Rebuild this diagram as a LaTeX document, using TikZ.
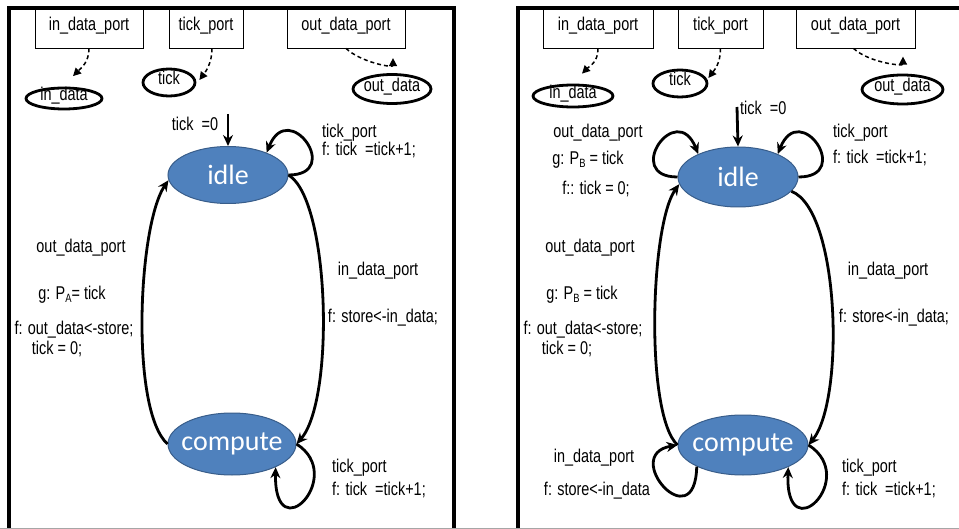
\documentclass[tikz,border=0pt]{standalone}
\usepackage{fontspec}
\setmainfont{Liberation Sans}[FakeStretch=0.78]
\newfontfamily\calib{Carlito}
\usetikzlibrary{shapes.geometric,arrows.meta}
\definecolor{stblue}{HTML}{4F81BD}
\definecolor{stborder}{HTML}{385D8A}
\newcommand\lblfont{\fontsize{18.5}{20}\selectfont}
\newcommand\subB[1]{\raisebox{-0.35ex}{\fontsize{12}{13}\selectfont #1}}
\tikzset{
  port/.style={draw, line width=0.8pt, minimum height=40pt, inner sep=0pt, font=\lblfont, text height=0.75em, text depth=0.25em},
  var/.style={ellipse, draw, line width=2.8pt, inner sep=0pt},
  vartext/.style={inner sep=0pt, font=\lblfont, text height=0.75em, text depth=0.25em},
  state/.style={ellipse, fill=stblue, draw=stborder, line width=1pt, inner sep=0pt},
  sttext/.style={inner sep=0pt, text=white, font=\calib\fontsize{28}{30}\selectfont},
  lbl/.style={inner sep=0pt, font=\lblfont, text height=0.75em, text depth=0.25em},
  tr/.style={line width=2.8pt, -{Stealth[length=11pt,width=10pt]}},
  dsh/.style={line width=1.5pt, dash pattern=on 4pt off 3pt, -{Triangle[length=8pt,width=8pt]}},
  frame/.style={line width=3.5pt}
}
\begin{document}
\begin{tikzpicture}[x=1pt,y=-1pt]
\useasboundingbox (0,0) rectangle (959,529);
\fill[white] (0,0) rectangle (959,529);

% ================= LEFT PANEL =================
\node[port, minimum width=108pt] (inL) at (89,28) {in\_data\_port};
\node[port, minimum width=74pt] (tickL) at (206,28) {tick\_port};
\node[port, minimum width=118pt] (outL) at (346,28) {out\_data\_port};

\node[var, minimum width=76pt, minimum height=21pt] (inDL) at (64,98.5) {};
\node[vartext] at (inDL) {in\_data};
\node[var, minimum width=52pt, minimum height=27pt] (tickDL) at (169,82.5) {};
\node[vartext] at (tickDL) {tick};
\node[var, minimum width=78pt, minimum height=29pt] (outDL) at (392,89) {};
\node[vartext] at (outDL) {out\_data};

\draw[dsh] (inL.south) .. controls +(0,14) and +(8,-8) .. ([xshift=9pt,yshift=10.5pt]inDL.north);
\draw[dsh] ([xshift=6pt]tickL.south) .. controls +(0,15) and +(6,-8) .. ([xshift=3pt,yshift=2.5pt]tickDL.east);
\draw[dsh] (outL.south) .. controls +(15,14) and +(0,10) .. ([xshift=1pt,yshift=15pt]outDL.north);

\node[state, minimum width=120pt, minimum height=57pt] (idleL) at (228,175) {};
\node[sttext] at (idleL) {idle};
\node[state, minimum width=128pt, minimum height=62pt] (compL) at (232,444) {};
\node[sttext] at (compL) {compute};

\coordinate (initL) at (228,114);
\draw[tr] (initL) -- (idleL.north);
\node[lbl] at (195,128) {tick~~=0};

\draw[tr] (idleL.east) .. controls +(55,0) and +(22,-55) .. (idleL.30);
\node[lbl, anchor=west] at (322,135) {tick\_port};
\node[lbl, anchor=west] at (322,153) {f: tick~~=tick+1;};

\draw[tr] (compL.west) .. controls (130,410) and (138,225) .. (idleL.185);
\draw[tr] (idleL.east) .. controls (330,200) and (335,400) .. (compL.east);

\node[lbl] at (81,250) {out\_data\_port};
\node[lbl] at (72,297) {g: P\subB{A}= tick};
\node[lbl] at (74,332) {f: out\_data<-store;};
\node[lbl] at (57,352) {tick = 0;};
\node[lbl] at (378,273) {in\_data\_port};
\node[lbl] at (383,320) {f: store<-in\_data;};

\draw[tr] (compL.east) .. controls (347,476) and (274,552) .. (compL.332);
\node[lbl, anchor=west] at (332,470) {tick\_port};
\node[lbl, anchor=west] at (332,493) {f: tick~~=tick+1;};

% ================= RIGHT PANEL =================
\node[port, minimum width=110pt] (inR) at (598,28) {in\_data\_port};
\node[port, minimum width=85pt] (tickR) at (720.5,28) {tick\_port};
\node[port, minimum width=119pt] (outR) at (855.5,28) {out\_data\_port};

\node[var, minimum width=80pt, minimum height=22pt] (inDR) at (573,96) {};
\node[vartext] at (inDR) {in\_data};
\node[var, minimum width=54pt, minimum height=27pt] (tickDR) at (680,83.5) {};
\node[vartext] at (tickDR) {tick};
\node[var, minimum width=81pt, minimum height=29pt] (outDR) at (902.5,89.5) {};
\node[vartext] at (outDR) {out\_data};

\draw[dsh] (inR.south) .. controls +(0,14) and +(8,-8) .. ([xshift=9pt,yshift=10pt]inDR.north);
\draw[dsh] (tickR.south) .. controls +(0,15) and +(6,-8) .. ([yshift=5.5pt]tickDR.east);
\draw[dsh] ([xshift=-2pt]outR.south) .. controls +(15,14) and +(0,10) .. ([xshift=0.5pt,yshift=17pt]outDR.north);

\node[state, minimum width=120pt, minimum height=60pt] (idleR) at (738,177) {};
\node[sttext] at (idleR) {idle};
\node[state, minimum width=130pt, minimum height=60pt] (compR) at (743,445) {};
\node[sttext] at (compR) {compute};

\coordinate (initR) at (737,107);
\draw[tr] (initR) -- (idleR.north);
\node[lbl, anchor=west] at (740,112) {tick~~=0};

\draw[tr] (idleR.east) .. controls +(55,0) and +(22,-55) .. (idleR.30);
\node[lbl, anchor=west] at (833,135) {tick\_port};
\node[lbl, anchor=west] at (833,161) {f: tick~~=tick+1;};

\draw[tr] (idleR.west) .. controls +(-55,0) and +(-22,-55) .. (idleR.150);
\node[lbl] at (598,135) {out\_data\_port};
\node[lbl] at (588,162) {g: P\subB{B} = tick};
\node[lbl] at (596,192) {f:: tick = 0;};

\draw[tr] (compR.west) .. controls (645,415) and (650,225) .. (idleR.187);
\draw[tr] (idleR.345) .. controls (840,210) and (845,400) .. (compR.east);

\node[lbl] at (590,250) {out\_data\_port};
\node[lbl] at (582,297) {g: P\subB{B} = tick};
\node[lbl] at (583,332) {f: out\_data<-store;};
\node[lbl] at (567,352) {tick = 0;};
\node[lbl] at (888,273) {in\_data\_port};
\node[lbl] at (894,320) {f: store<-in\_data;};

\draw[tr] (compR.east) .. controls (860,478) and (785,552) .. (compR.334);
\node[lbl, anchor=west] at (842,470) {tick\_port};
\node[lbl, anchor=west] at (842,493) {f: tick~~=tick+1;};

\draw[tr] (compR.205) .. controls (695,540) and (620,455) .. (compR.west);
\node[lbl] at (594,460) {in\_data\_port};
\node[lbl] at (597,493) {f: store<-in\_data};

% ================= FRAMES =================
\draw[frame] (9,529) -- (9,8) -- (454,8) -- (454,529);
\draw[frame] (518,529) -- (518,8) -- (965,8);
\draw[gray!70, line width=1pt] (0,528.5) -- (959,528.5);
\end{tikzpicture}
\end{document}
